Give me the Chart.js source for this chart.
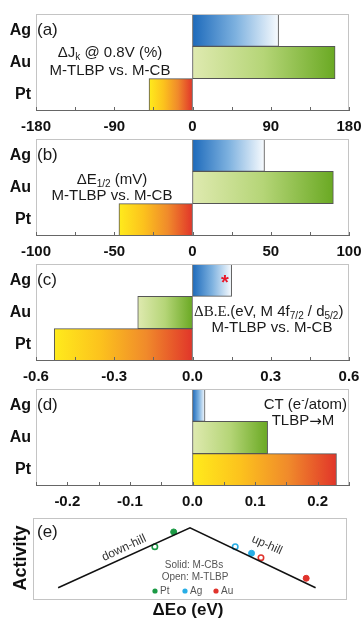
<!DOCTYPE html>
<html>
<head>
<meta charset="utf-8">
<script src="https://cdn.jsdelivr.net/npm/chart.js@4.4.0/dist/chart.umd.min.js"></script>
<style>
  html, body { margin: 0; padding: 0; background: #fff; }
  #wrap { position: relative; width: 361px; height: 621px; overflow: hidden; }
  #wrap canvas { position: absolute; left: 0; }
</style>
</head>
<body>
<div id="wrap">
  <canvas id="pa" width="361" height="140" style="top:0px"></canvas>
  <canvas id="pb" width="361" height="140" style="top:125px"></canvas>
  <canvas id="pc" width="361" height="140" style="top:250px"></canvas>
  <canvas id="pd" width="361" height="140" style="top:375px"></canvas>
  <canvas id="pe" width="361" height="121" style="top:500px"></canvas>
</div>
<script>
// categories + values
const metals = ['Ag', 'Au', 'Pt'];
const dJk = [99, 164, -50];          // (a) ΔJk @ 0.8V (%)
const dE12 = [46, 90, -47];          // (b) ΔE1/2 (mV)
const dBE = [0.15, -0.21, -0.53];    // (c) ΔB.E. (eV)
const ctAtom = [0.02, 0.12, 0.23];   // (d) CT (e-/atom)

// axis: min, max, minor tick step, labelled step
const axisA = [-180, 180, 45, 90];
const axisB = [-100, 100, 25, 50];
const axisC = [-0.6, 0.6, 0.15, 0.3];
const axisD = [-0.25, 0.25, 0.05, 0.1];

// (e) volcano
const volcanoDE = [-0.21, 0, 0.20];
const volcanoAct = [0.15, 0.88, 0.15];
const dotMetals = ['Pt', 'Ag', 'Au'];
const solidDE = [-0.026, 0.098, 0.185];
const solidAct = [0.83, 0.57, 0.265];
const openDE = [-0.056, 0.072, 0.113];
const openAct = [0.65, 0.65, 0.516];

const SANS = '"Liberation Sans", Arial, sans-serif';
const SERIF = '"Liberation Serif", "Times New Roman", serif';

const barStops = {
  Ag: ['#1d6abb', '#7db1df', '#f8fbfe'],
  Au: ['#dfeab0', '#b5d577', '#6aa923'],
  Pt: ['#ffeb1c', '#fcc21d', '#f08a2b', '#e1352a']
};
const dotColor = { Pt: '#1b9a45', Ag: '#28aee6', Au: '#e0332c' };

// gradient spans each bar from its left edge to its right edge
function barFill(ctx) {
  const chart = ctx.chart;
  const stops = barStops[metals[ctx.dataIndex]];
  if (!chart.chartArea || !chart.scales.x) return stops[0];
  const x = chart.scales.x;
  const p0 = x.getPixelForValue(0), p1 = x.getPixelForValue(ctx.raw);
  const g = chart.ctx.createLinearGradient(Math.min(p0, p1), 0, Math.max(p0, p1), 0);
  stops.forEach((c, i) => g.addColorStop(i / (stops.length - 1), c));
  return g;
}

const isMajor = (v, step) => Math.abs(v / step - Math.round(v / step)) < 1e-6;

// draws text pieces with sub/superscripts
function rich(ctx, parts, x, y, align) {
  let w = 0;
  parts.forEach(p => { ctx.font = p.f; p.w = ctx.measureText(p.t).width; w += p.w; });
  let cx = align === 'center' ? x - w / 2 : align === 'right' ? x - w : x;
  ctx.textAlign = 'left';
  ctx.textBaseline = 'middle';
  parts.forEach(p => {
    ctx.font = p.f;
    ctx.fillStyle = p.c || '#1a1a1a';
    ctx.fillText(p.t, cx, y + (p.dy || 0));
    cx += p.w;
  });
}

const frame = {
  id: 'frame',
  afterDraw(chart, args, opts) {
    const { ctx, chartArea: a } = chart;
    ctx.save();
    ctx.lineWidth = 1;
    ctx.strokeStyle = '#c4c4c4';
    ctx.strokeRect(a.left + 0.5, a.top + 0.5, a.right - a.left - 1, a.bottom - a.top - 1);
    if (opts.ticks) {
      const x = chart.scales.x;
      ctx.strokeStyle = '#666';
      ctx.beginPath();
      ctx.moveTo(a.left, a.bottom - 0.5);
      ctx.lineTo(a.right, a.bottom - 0.5);
      x.ticks.forEach(t => {
        const px = Math.round(x.getPixelForValue(t.value)) + 0.5;
        ctx.moveTo(px, a.bottom);
        ctx.lineTo(px, a.bottom - 4);
      });
      ctx.stroke();
    }
    ctx.restore();
  }
};

const notes = {
  id: 'notes',
  afterDraw(chart, args, opts) {
    const ctx = chart.ctx;
    ctx.save();
    (opts.items || []).forEach(n => {
      ctx.save();
      ctx.translate(n.x, n.y);
      if (n.rot) ctx.rotate(n.rot * Math.PI / 180);
      if (n.dot) {
        ctx.fillStyle = n.dot;
        ctx.beginPath();
        ctx.arc(0, 0, 2.6, 0, Math.PI * 2);
        ctx.fill();
      } else {
        rich(ctx, n.parts, 0, 0, n.align || 'left');
      }
      ctx.restore();
    });
    ctx.restore();
  }
};

const f = (size, extra) => (extra ? extra + ' ' : '') + size + 'px ' + SANS;

function barPanel(id, values, axis, fmt, items) {
  return new Chart(document.getElementById(id), {
    type: 'bar',
    data: {
      labels: metals,
      datasets: [{
        data: values,
        backgroundColor: barFill,
        borderColor: '#555',
        borderWidth: 1,
        borderSkipped: false,
        barPercentage: 1,
        categoryPercentage: 1
      }]
    },
    options: {
      indexAxis: 'y',
      responsive: false,
      animation: false,
      events: [],
      layout: { padding: { top: 14, right: 12, left: 0, bottom: 0 } },
      plugins: {
        legend: { display: false },
        tooltip: { enabled: false },
        frame: { ticks: true },
        notes: { items }
      },
      scales: {
        x: {
          min: axis[0], max: axis[1],
          grid: { display: false, drawTicks: false },
          border: { display: false },
          ticks: {
            stepSize: axis[2], autoSkip: false, maxRotation: 0, padding: 7,
            color: '#111', font: { family: SANS, size: 15, weight: 'bold' },
            callback: v => isMajor(v, axis[3]) ? fmt(v) : ''
          },
          afterFit: s => { s.height = 29; s.paddingLeft = 0; s.paddingRight = 0; }
        },
        y: {
          grid: { display: false, drawTicks: false },
          border: { display: false },
          ticks: { padding: 5, color: '#111', font: { family: SANS, size: 16, weight: 'bold' } },
          afterFit: s => { s.width = 36; s.paddingTop = 0; s.paddingBottom = 0; }
        }
      }
    },
    plugins: [frame, notes]
  });
}

const int = v => String(v);
const dec1 = v => v.toFixed(1);
const tag = t => ({ x: 37, y: 30, parts: [{ t, f: f(17) }] });
const sub = t => ({ t, f: f(10), dy: 4 });

barPanel('pa', dJk, axisA, int, [
  tag('(a)'),
  { x: 110, y: 53, align: 'center', parts: [{ t: 'ΔJ', f: f(15) }, sub('k'), { t: ' @ 0.8V (%)', f: f(15) }] },
  { x: 110, y: 71, align: 'center', parts: [{ t: 'M-TLBP vs. M-CB', f: f(15) }] }
]);

barPanel('pb', dE12, axisB, int, [
  tag('(b)'),
  { x: 112, y: 55, align: 'center', parts: [{ t: 'ΔE', f: f(15) }, sub('1/2'), { t: ' (mV)', f: f(15) }] },
  { x: 112, y: 71, align: 'center', parts: [{ t: 'M-TLBP vs. M-CB', f: f(15) }] }
]);

barPanel('pc', dBE, axisC, dec1, [
  tag('(c)'),
  { x: 225, y: 33, align: 'center', parts: [{ t: '*', f: 'bold 20px ' + SANS, c: '#e8182a' }] },
  { x: 194, y: 62, align: 'left', parts: [
    { t: 'ΔB.E.', f: '15px ' + SERIF }, { t: '(eV, M 4f', f: f(15) }, sub('7/2'),
    { t: ' / d', f: f(15) }, sub('5/2'), { t: ')', f: f(15) }] },
  { x: 272, y: 78, align: 'center', parts: [{ t: 'M-TLBP vs. M-CB', f: f(15) }] }
]);

barPanel('pd', ctAtom, axisD, dec1, [
  tag('(d)'),
  { x: 347, y: 30, align: 'right', parts: [{ t: 'CT (e', f: f(15) }, { t: '-', f: f(10), dy: -5 }, { t: '/atom)', f: f(15) }] },
  { x: 303, y: 46, align: 'center', parts: [
    { t: 'TLBP', f: f(15) }, { t: '→', f: '15px "DejaVu Sans", sans-serif', dy: 1 }, { t: 'M', f: f(15) }] }
]);

// (e) volcano plot
const pts = (xs, ys) => xs.map((x, i) => ({ x, y: ys[i] }));
const legendRow = [];
dotMetals.forEach((m, i) => {
  const x0 = [155, 185, 216][i];
  legendRow.push({ x: x0, y: 91, dot: dotColor[m] });
  legendRow.push({ x: x0 + 5, y: 91, parts: [{ t: m, f: f(10), c: '#555' }] });
});

new Chart(document.getElementById('pe'), {
  type: 'scatter',
  data: {
    datasets: [
      {
        type: 'line', data: pts(volcanoDE, volcanoAct),
        borderColor: '#111', borderWidth: 1.6, pointRadius: 0, fill: false, tension: 0
      },
      {
        data: pts(solidDE, solidAct),
        pointBackgroundColor: dotMetals.map(m => dotColor[m]),
        pointBorderColor: dotMetals.map(m => dotColor[m]),
        pointRadius: 3, pointBorderWidth: 1
      },
      {
        data: pts(openDE, openAct),
        pointBackgroundColor: '#fff',
        pointBorderColor: dotMetals.map(m => dotColor[m]),
        pointRadius: 2.7, pointBorderWidth: 1.6
      }
    ]
  },
  options: {
    responsive: false,
    animation: false,
    events: [],
    layout: { padding: { top: 18, right: 14, left: 33, bottom: 21 } },
    plugins: {
      legend: { display: false },
      tooltip: { enabled: false },
      frame: { ticks: false },
      notes: {
        items: [
          { x: 37, y: 32, parts: [{ t: '(e)', f: f(17) }] },
          { x: 124, y: 48, rot: -25, align: 'center', parts: [{ t: 'down-hill', f: f(12), c: '#333' }] },
          { x: 267, y: 45, rot: 24, align: 'center', parts: [{ t: 'up-hill', f: f(12), c: '#333' }] },
          { x: 194, y: 65, align: 'center', parts: [{ t: 'Solid: M-CBs', f: f(10), c: '#555' }] },
          { x: 195, y: 77, align: 'center', parts: [{ t: 'Open: M-TLBP', f: f(10), c: '#555' }] },
          ...legendRow,
          { x: 21, y: 58, rot: -90, align: 'center', parts: [{ t: 'Activity', f: f(18, 'bold'), c: '#111' }] },
          { x: 188, y: 110, align: 'center', parts: [{ t: 'ΔEo (eV)', f: f(17, 'bold'), c: '#111' }] }
        ]
      }
    },
    scales: {
      x: { type: 'linear', min: -0.25, max: 0.25, display: false },
      y: { type: 'linear', min: 0, max: 1, display: false }
    }
  },
  plugins: [frame, notes]
});
</script>
</body>
</html>
